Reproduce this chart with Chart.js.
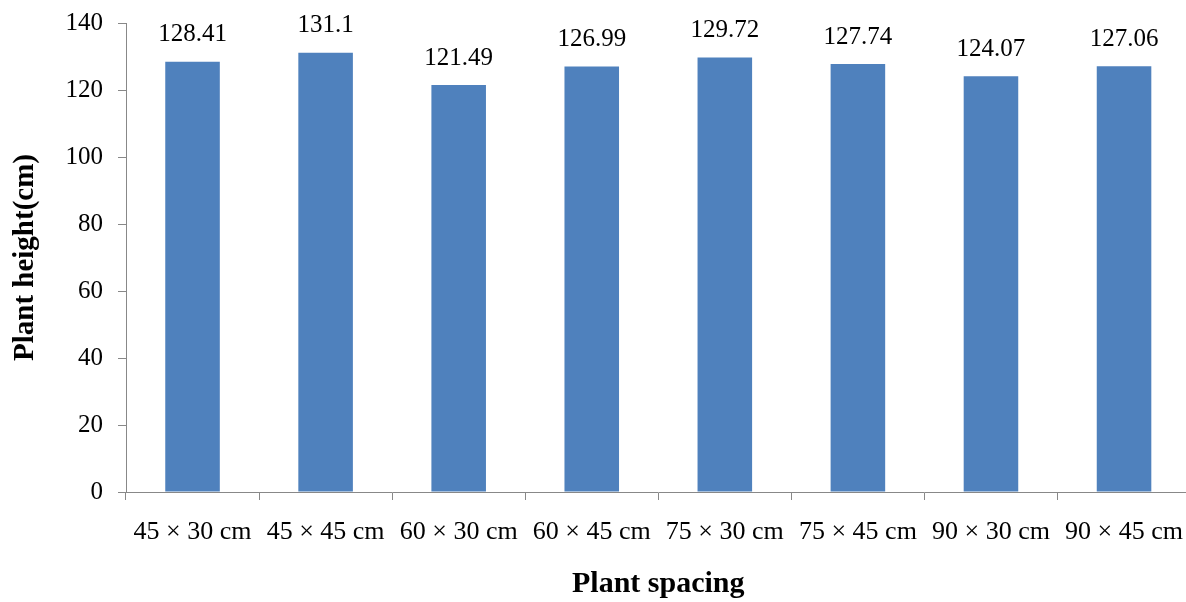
<!DOCTYPE html>
<html>
<head>
<meta charset="utf-8">
<script src="https://cdn.jsdelivr.net/npm/chart.js@4/dist/chart.umd.min.js"></script>
<style>
  html, body { margin: 0; padding: 0; background: #fff; overflow: hidden; }
  #wrap { width: 1186px; height: 602px; overflow: hidden; }
  #heightChart { display: block; margin-top: -7px; }
</style>
</head>
<body>
<div id="wrap"><canvas id="heightChart" width="1200" height="609"></canvas></div>
<script>
// Datos del gráfico
const spacings = ['45 × 30 cm', '45 × 45 cm', '60 × 30 cm', '60 × 45 cm', '75 × 30 cm', '75 × 45 cm', '90 × 30 cm', '90 × 45 cm'];
const plantHeight = [128.41, 131.1, 121.49, 126.99, 129.72, 127.74, 124.07, 127.06];
const heightLabels = ['128.41', '131.1', '121.49', '126.99', '129.72', '127.74', '124.07', '127.06'];

const serif = '"Liberation Serif", "Times New Roman", serif';

// etiquetas encima de cada barra
const valueLabels = {
    id: 'valueLabels',
    afterDatasetsDraw(chart) {
        const ctx = chart.ctx;
        const meta = chart.getDatasetMeta(0);
        ctx.save();
        ctx.font = '25px ' + serif;
        ctx.fillStyle = '#000';
        ctx.textAlign = 'center';
        ctx.textBaseline = 'middle';
        meta.data.forEach((bar, i) => {
            ctx.fillText(heightLabels[i], bar.x, bar.y - 27);
        });
        ctx.restore();
    }
};

const ctx = document.getElementById('heightChart').getContext('2d');
new Chart(ctx, {
    type: 'bar',
    data: {
        labels: spacings,
        datasets: [{
            data: plantHeight,
            backgroundColor: '#4F81BD',
            borderWidth: 0,
            categoryPercentage: 1,
            barPercentage: 0.41
        }]
    },
    options: {
        responsive: false,
        animation: false,
        devicePixelRatio: 1,
        layout: { padding: { top: 16, right: 0, left: 0, bottom: 0 } },
        plugins: {
            legend: { display: false },
            tooltip: { enabled: false }
        },
        scales: {
            x: {
                afterFit(scale) { scale.height = 110; },
                grid: {
                    drawOnChartArea: false,
                    drawTicks: true,
                    tickLength: 8,
                    color: '#888'
                },
                border: { color: '#888', width: 1 },
                ticks: {
                    color: '#000',
                    font: { family: serif, size: 26 },
                    padding: 17,
                    maxRotation: 0,
                    autoSkip: false
                },
                title: {
                    display: true,
                    text: 'Plant spacing',
                    color: '#000',
                    font: { family: serif, size: 30, weight: 'bold' },
                    padding: { top: 0, bottom: 0 }
                }
            },
            y: {
                min: 0,
                max: 140,
                afterFit(scale) { scale.width = 126; },
                grid: {
                    drawOnChartArea: false,
                    drawTicks: true,
                    tickLength: 8,
                    color: '#888'
                },
                border: { color: '#888', width: 1 },
                ticks: {
                    stepSize: 20,
                    color: '#000',
                    font: { family: serif, size: 25 },
                    padding: 15
                },
                title: {
                    display: true,
                    text: 'Plant height(cm)',
                    color: '#000',
                    font: { family: serif, size: 29, weight: 'bold' },
                    padding: { top: 8, bottom: 0 }
                }
            }
        }
    },
    plugins: [valueLabels]
});
</script>
</body>
</html>
